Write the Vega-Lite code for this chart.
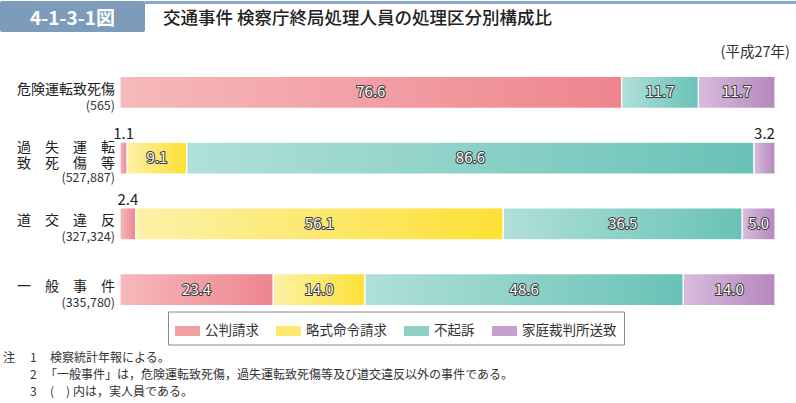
{
  "$schema": "https://vega.github.io/schema/vega-lite/v6.json",
  "padding": {"top": 1, "left": 0, "right": 0, "bottom": 0},
  "columns": 1,
  "spacing": 12.5,
  "resolve": {"scale": {"fill": "independent"}, "legend": {"fill": "independent"}},
  "datasets": {
    "bars": [
      {"cat": "危険運転致死傷", "type": "公判請求", "value": 76.6},
      {"cat": "危険運転致死傷", "type": "不起訴", "value": 11.7},
      {"cat": "危険運転致死傷", "type": "家庭裁判所送致", "value": 11.7},
      {"cat": "過失運転致死傷等", "type": "公判請求", "value": 1.1},
      {"cat": "過失運転致死傷等", "type": "略式命令請求", "value": 9.1},
      {"cat": "過失運転致死傷等", "type": "不起訴", "value": 86.6},
      {"cat": "過失運転致死傷等", "type": "家庭裁判所送致", "value": 3.2},
      {"cat": "道交違反", "type": "公判請求", "value": 2.4},
      {"cat": "道交違反", "type": "略式命令請求", "value": 56.1},
      {"cat": "道交違反", "type": "不起訴", "value": 36.5},
      {"cat": "道交違反", "type": "家庭裁判所送致", "value": 5.0},
      {"cat": "一般事件", "type": "公判請求", "value": 23.4},
      {"cat": "一般事件", "type": "略式命令請求", "value": 14.0},
      {"cat": "一般事件", "type": "不起訴", "value": 48.6},
      {"cat": "一般事件", "type": "家庭裁判所送致", "value": 14.0}
    ],
    "groups": [
      {"cat": "危険運転致死傷", "label": "危険運転致死傷", "n": "(565)"},
      {"cat": "過失運転致死傷等", "label": "過　失　運　転\n致　死　傷　等", "n": "(527,887)"},
      {"cat": "道交違反", "label": "道　交　違　反", "n": "(327,324)"},
      {"cat": "一般事件", "label": "一　般　事　件", "n": "(335,780)"}
    ],
    "notes": [
      {"line": 1, "mark": "注", "num": "1", "body": "検察統計年報による。"},
      {"line": 2, "mark": "", "num": "2", "body": "「一般事件」は，危険運転致死傷，過失運転致死傷等及び道交違反以外の事件である。"},
      {"line": 3, "mark": "", "num": "3", "body": "(\u3000)\u2005内は，実人員である。"}
    ]
  },
  "concat": [
    {
      "spacing": 0,
      "hconcat": [
        {
          "width": 145, "height": 31,
          "view": {"fill": "#7d9bbb", "stroke": null, "cornerRadius": 2},
          "data": {"values": [{"label": "4-1-3-1図"}]},
          "mark": {"type": "text", "color": "#ffffff", "fontSize": 19, "fontWeight": "bold", "font": "Noto Sans CJK JP", "dy": 2.5},
          "encoding": {"text": {"field": "label", "type": "nominal"}}
        },
        {
          "width": 651, "height": 3,
          "view": {"fill": "#8ba7c7", "stroke": null},
          "data": {"values": []},
          "mark": "point",
          "encoding": {},
          "title": {
            "text": "交通事件 検察庁終局処理人員の処理区分別構成比",
            "orient": "bottom", "anchor": "start", "dx": 18, "offset": 6,
            "fontSize": 17.5, "fontWeight": 500, "color": "#222", "font": "Noto Sans CJK JP"
          }
        }
      ]
    },
    {
      "bounds": "flush",
      "spacing": 40,
      "resolve": {"scale": {"fill": "independent"}, "legend": {"fill": "independent"}},
      "vconcat": [
        {
          "width": 775, "height": 235,
          "title": {"text": "(平成27年)", "frame": "group", "anchor": "end", "dx": 15, "offset": 13, "fontSize": 14.5, "fontWeight": "normal", "color": "#333", "font": "Noto Sans CJK JP"},
          "data": {"name": "bars"},
          "transform": [
            {"calculate": "indexof(['公判請求','略式命令請求','不起訴','家庭裁判所送致'], datum.type)", "as": "k"}
          ],
          "encoding": {
            "y": {
              "field": "cat", "type": "nominal",
              "scale": {"type": "band", "domain": ["危険運転致死傷", "過失運転致死傷等", "道交違反", "一般事件"], "paddingInner": 0.514, "paddingOuter": 0.046},
              "axis": null
            }
          },
          "layer": [
            {
              "mark": {"type": "bar", "stroke": "#ffffff", "strokeWidth": 1.2},
              "encoding": {
                "x": {"field": "value", "type": "quantitative", "stack": "zero", "scale": {"domain": [-18.32, 100], "nice": false, "zero": false}, "axis": null},
                "order": {"field": "k"},
                "fill": {
                  "field": "type", "type": "nominal",
                  "scale": {"domain": ["公判請求", "略式命令請求", "不起訴", "家庭裁判所送致"], "range": ["#f19fa5", "#fce96e", "#8ed0c6", "#c6a0cc"]},
                  "legend": {
                    "orient": "none", "legendX": 168, "legendY": 238, "direction": "horizontal", "columns": 4,
                    "title": null, "symbolType": "M-1,-0.4H1V0.4H-1Z", "symbolSize": 625, "symbolStrokeWidth": 0,
                    "labelFontSize": 13.5, "labelFont": "Noto Sans CJK JP", "labelColor": "#333", "labelOffset": 5,
                    "strokeColor": "#8a8a8a", "padding": 7, "columnPadding": 17,
                    "encode": {
                      "symbols": {
                        "fill": {
                          "condition": [
                            {"test": "datum.value === '公判請求'", "value": {"gradient": "linear", "x1": 0, "y1": 0, "x2": 1, "y2": 0, "stops": [{"offset": 0, "color": "#f6b9bc"}, {"offset": 1, "color": "#ee858e"}]}},
                            {"test": "datum.value === '略式命令請求'", "value": {"gradient": "linear", "x1": 0, "y1": 0, "x2": 1, "y2": 0, "stops": [{"offset": 0, "color": "#fcf1a8"}, {"offset": 1, "color": "#fde035"}]}},
                            {"test": "datum.value === '不起訴'", "value": {"gradient": "linear", "x1": 0, "y1": 0, "x2": 1, "y2": 0, "stops": [{"offset": 0, "color": "#b0e0d9"}, {"offset": 1, "color": "#69c2b6"}]}}
                          ],
                          "value": {"gradient": "linear", "x1": 0, "y1": 0, "x2": 1, "y2": 0, "stops": [{"offset": 0, "color": "#d9bcdd"}, {"offset": 1, "color": "#b587be"}]}
                        }
                      }
                    }
                  }
                }
              }
            },
            {
              "mark": {"type": "bar", "stroke": "#ffffff", "strokeWidth": 1.2},
              "encoding": {
                "x": {"field": "value", "type": "quantitative", "stack": "zero"},
                "order": {"field": "k"},
                "detail": {"field": "type", "type": "nominal"},
                "fill": {
                  "condition": [
                    {"test": "datum.type === '公判請求'", "value": {"gradient": "linear", "x1": 0, "y1": 0, "x2": 1, "y2": 0, "stops": [{"offset": 0, "color": "#f6b9bc"}, {"offset": 1, "color": "#ee858e"}]}},
                    {"test": "datum.type === '略式命令請求'", "value": {"gradient": "linear", "x1": 0, "y1": 0, "x2": 1, "y2": 0, "stops": [{"offset": 0, "color": "#fcf1a8"}, {"offset": 1, "color": "#fde035"}]}},
                    {"test": "datum.type === '不起訴'", "value": {"gradient": "linear", "x1": 0, "y1": 0, "x2": 1, "y2": 0, "stops": [{"offset": 0, "color": "#b0e0d9"}, {"offset": 1, "color": "#69c2b6"}]}}
                  ],
                  "value": {"gradient": "linear", "x1": 0, "y1": 0, "x2": 1, "y2": 0, "stops": [{"offset": 0, "color": "#d9bcdd"}, {"offset": 1, "color": "#b587be"}]}
                }
              }
            },
            {
              "mark": {"type": "text", "font": "Noto Sans CJK JP", "baseline": "middle", "fill": "#3a3a3a", "stroke": "#3a3a3a", "strokeWidth": 2, "strokeJoin": "round"},
              "encoding": {
                "x": {"field": "value", "type": "quantitative", "stack": "zero", "bandPosition": 0.5},
                "order": {"field": "k"},
                "detail": {"field": "type", "type": "nominal"},
                "size": {"condition": {"test": "datum.value < 4", "value": 0}, "value": 15},
                "text": {"condition": {"test": "datum.value < 4", "value": ""}, "field": "value", "type": "quantitative", "format": ".1f"}
              }
            },
            {
              "mark": {"type": "text", "font": "Noto Sans CJK JP", "baseline": "middle", "fill": "#ffffff"},
              "encoding": {
                "x": {"field": "value", "type": "quantitative", "stack": "zero", "bandPosition": 0.5},
                "order": {"field": "k"},
                "detail": {"field": "type", "type": "nominal"},
                "size": {"condition": {"test": "datum.value < 4", "value": 0}, "value": 15},
                "text": {"condition": {"test": "datum.value < 4", "value": ""}, "field": "value", "type": "quantitative", "format": ".1f"}
              }
            },
            {
              "mark": {"type": "text", "font": "Noto Sans CJK JP", "baseline": "alphabetic", "dy": -19, "fill": "#222"},
              "encoding": {
                "x": {"field": "value", "type": "quantitative", "stack": "zero", "bandPosition": 0.5},
                "order": {"field": "k"},
                "detail": {"field": "type", "type": "nominal"},
                "size": {"condition": {"test": "datum.value >= 4", "value": 0}, "value": 15},
                "text": {"condition": {"test": "datum.value >= 4", "value": ""}, "field": "value", "type": "quantitative", "format": ".1f"}
              }
            },
            {
              "data": {"name": "groups"},
              "transform": [{"filter": "datum.cat !== '過失運転致死傷等'"}],
              "mark": {"type": "text", "align": "right", "baseline": "middle", "dx": -5, "dy": -2.5, "fontSize": 14, "font": "Noto Sans CJK JP", "fill": "#222"},
              "encoding": {"x": {"datum": 0}, "text": {"field": "label", "type": "nominal"}}
            },
            {
              "data": {"name": "groups"},
              "transform": [{"filter": "datum.cat === '過失運転致死傷等'"}],
              "mark": {"type": "text", "align": "right", "baseline": "middle", "dx": -5, "dy": -10.5, "lineBreak": "\n", "lineHeight": 16, "fontSize": 14, "font": "Noto Sans CJK JP", "fill": "#222"},
              "encoding": {"x": {"datum": 0}, "text": {"field": "label", "type": "nominal"}}
            },
            {
              "data": {"name": "groups"},
              "transform": [{"filter": "datum.cat !== '過失運転致死傷等'"}],
              "mark": {"type": "text", "align": "right", "baseline": "middle", "dx": -5, "dy": 13.5, "fontSize": 12.5, "font": "Noto Sans CJK JP", "fill": "#333"},
              "encoding": {"x": {"datum": 0}, "text": {"field": "n", "type": "nominal"}}
            },
            {
              "data": {"name": "groups"},
              "transform": [{"filter": "datum.cat === '過失運転致死傷等'"}],
              "mark": {"type": "text", "align": "right", "baseline": "middle", "dx": -5, "dy": 19.5, "fontSize": 12.5, "font": "Noto Sans CJK JP", "fill": "#333"},
              "encoding": {"x": {"datum": 0}, "text": {"field": "n", "type": "nominal"}}
            }
          ]
        },
        {
          "width": 796, "height": 51,
          "data": {"name": "notes"},
          "encoding": {
            "y": {"field": "line", "type": "ordinal", "axis": null, "scale": {"paddingInner": 0, "paddingOuter": 0}},
            "x": {"datum": 0, "type": "quantitative", "scale": {"domain": [0, 1]}, "axis": null}
          },
          "layer": [
            {
              "mark": {"type": "text", "align": "left", "baseline": "middle", "dx": 3, "dy": 0.5, "fontSize": 12, "font": "Noto Sans CJK JP", "fill": "#333"},
              "encoding": {"text": {"field": "mark", "type": "nominal"}}
            },
            {
              "mark": {"type": "text", "align": "left", "baseline": "middle", "dx": 30, "dy": 0.5, "fontSize": 12, "font": "Noto Sans CJK JP", "fill": "#333"},
              "encoding": {"text": {"field": "num", "type": "nominal"}}
            },
            {
              "transform": [{"filter": "datum.line !== 2"}],
              "mark": {"type": "text", "align": "left", "baseline": "middle", "dx": 50, "dy": 0.5, "fontSize": 12, "font": "Noto Sans CJK JP", "fill": "#333"},
              "encoding": {"text": {"field": "body", "type": "nominal"}}
            },
            {
              "transform": [{"filter": "datum.line === 2"}],
              "mark": {"type": "text", "align": "left", "baseline": "middle", "dx": 45, "dy": 0.5, "fontSize": 12, "font": "Noto Sans CJK JP", "fill": "#333"},
              "encoding": {"text": {"field": "body", "type": "nominal"}}
            }
          ]
        }
      ]
    }
  ],
  "config": {
    "view": {"stroke": null},
    "font": "Noto Sans CJK JP"
  }
}
